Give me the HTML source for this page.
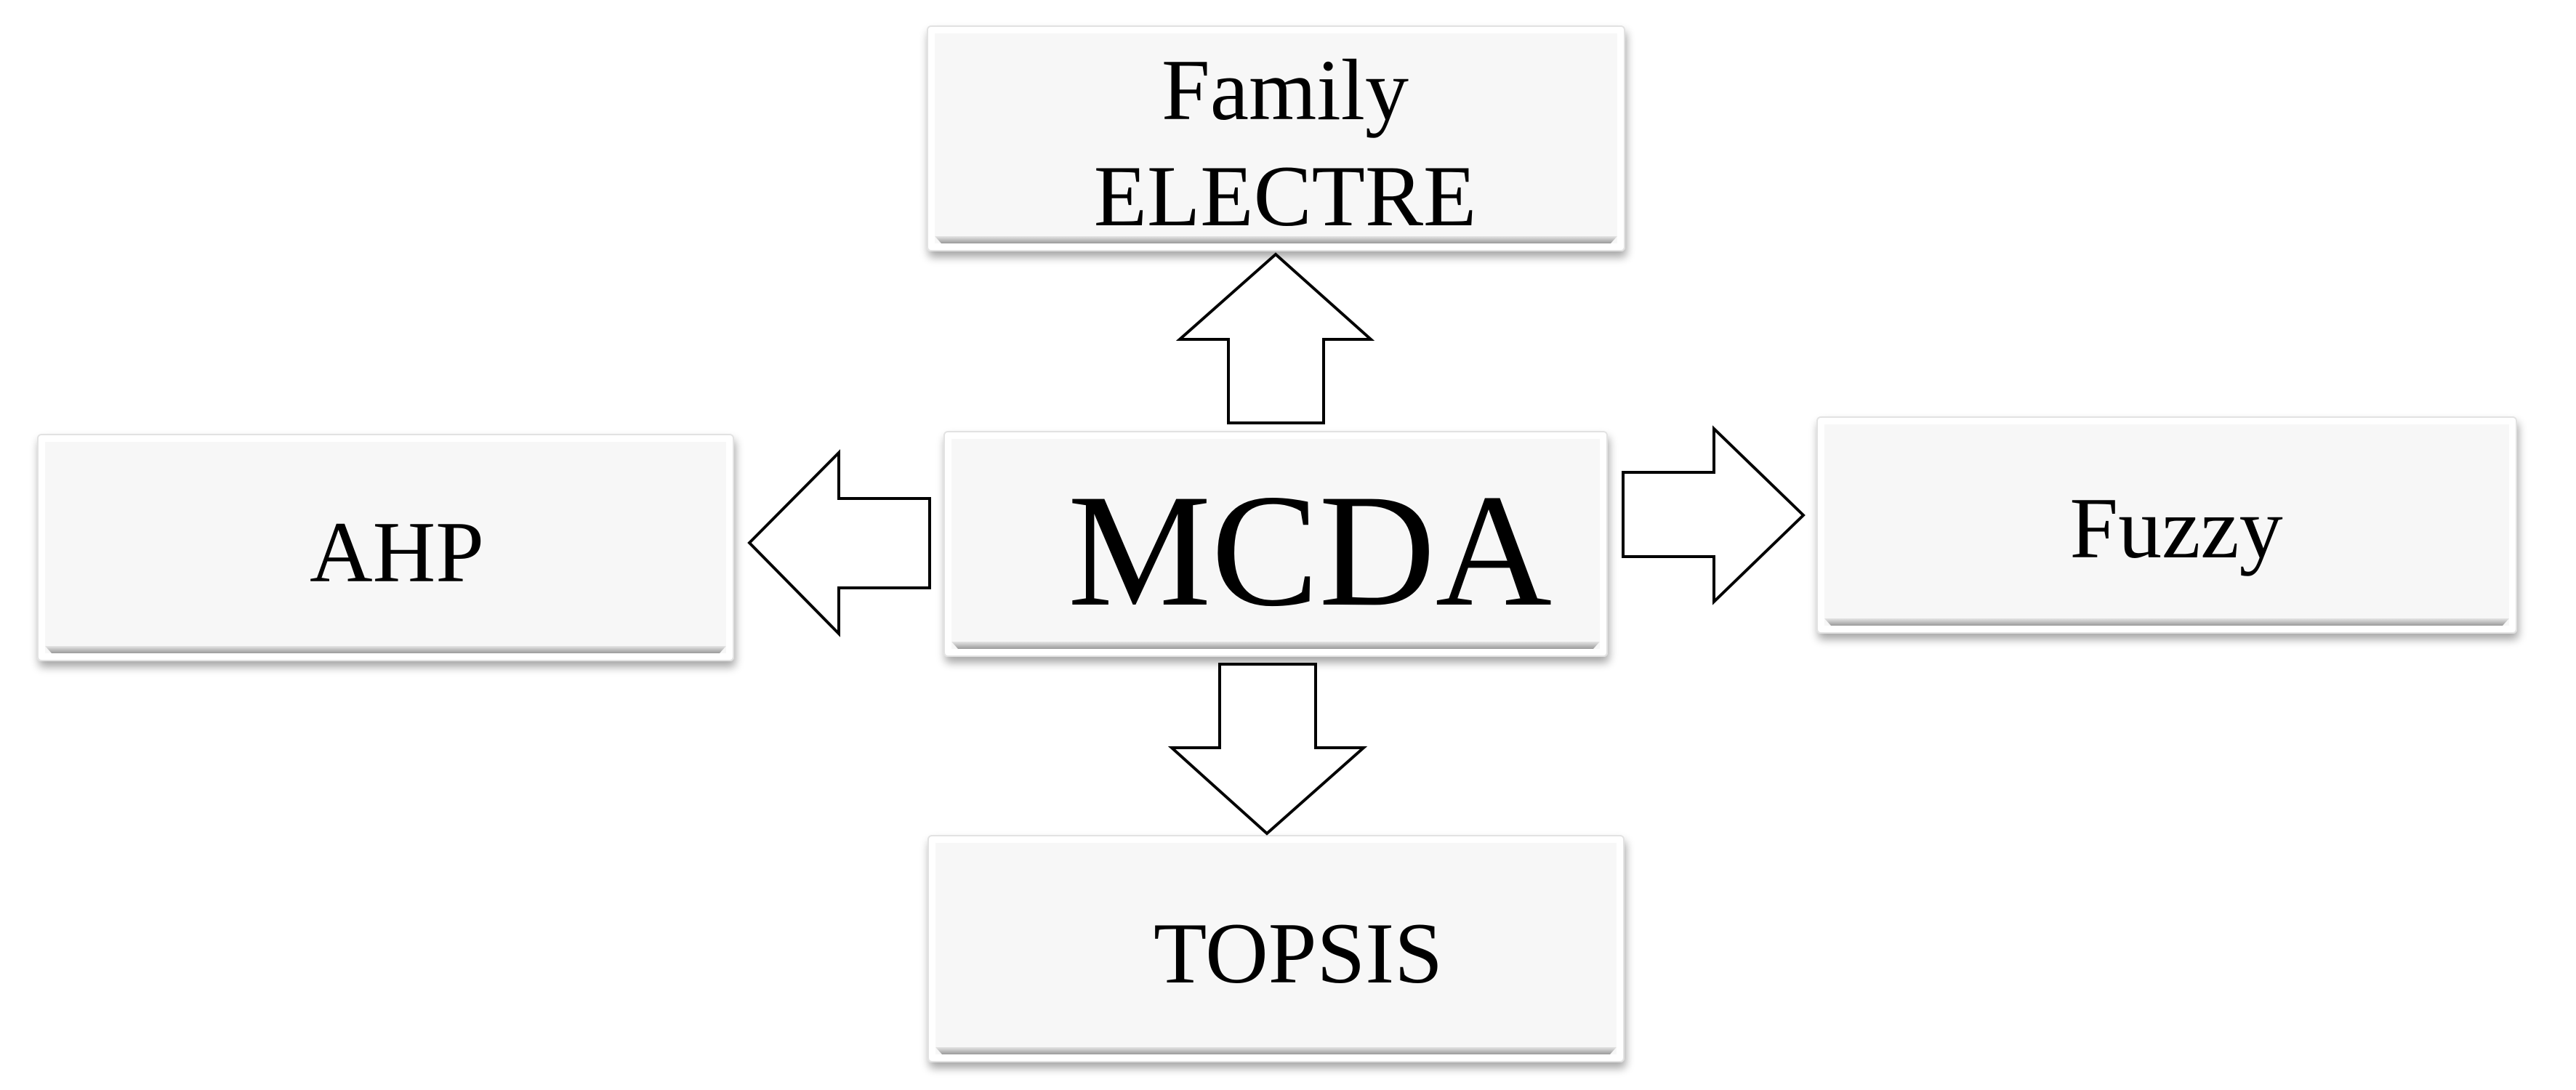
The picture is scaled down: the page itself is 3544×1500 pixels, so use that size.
<!DOCTYPE html>
<html><head><meta charset="utf-8"><style>
html,body{margin:0;padding:0;background:#fff;}
svg{display:block}
text{font-family:"Liberation Serif","Times New Roman",serif;fill:#000}
</style></head><body>
<svg width="3544" height="1500" viewBox="0 0 3544 1500" xmlns="http://www.w3.org/2000/svg">
<defs>
<filter id="sh" x="-5%" y="-10%" width="110%" height="125%">
<feGaussianBlur in="SourceAlpha" stdDeviation="6"/>
<feOffset dx="2" dy="8" result="b"/>
<feComponentTransfer><feFuncA type="linear" slope="0.35"/></feComponentTransfer>
<feMerge><feMergeNode/><feMergeNode in="SourceGraphic"/></feMerge>
</filter>
<linearGradient id="bot" x1="0" y1="0" x2="0" y2="1">
<stop offset="0" stop-color="#e6e6e6"/><stop offset="1" stop-color="#9a9a9a"/>
</linearGradient>
</defs>
<g id="boxes">
<!-- Family ELECTRE -->
<g filter="url(#sh)">
<rect x="1276" y="36" width="959" height="309" rx="5" fill="#fff" stroke="#e2e2e2" stroke-width="2"/>
</g>
<rect x="1286" y="46" width="939" height="289" fill="#f7f7f7"/>
<polygon points="1286,325 2225,325 2216,335 1295,335" fill="url(#bot)"/>
<!-- MCDA -->
<g filter="url(#sh)">
<rect x="1299" y="594" width="912" height="309" rx="5" fill="#fff" stroke="#e2e2e2" stroke-width="2"/>
</g>
<rect x="1309" y="604" width="892" height="289" fill="#f7f7f7"/>
<polygon points="1309,883 2201,883 2192,893 1318,893" fill="url(#bot)"/>
<!-- AHP -->
<g filter="url(#sh)">
<rect x="52" y="598" width="957" height="311" rx="5" fill="#fff" stroke="#e2e2e2" stroke-width="2"/>
</g>
<rect x="62" y="608" width="937" height="291" fill="#f7f7f7"/>
<polygon points="62,889 999,889 990,899 71,899" fill="url(#bot)"/>
<!-- Fuzzy -->
<g filter="url(#sh)">
<rect x="2500" y="574" width="962" height="297" rx="5" fill="#fff" stroke="#e2e2e2" stroke-width="2"/>
</g>
<rect x="2510" y="584" width="942" height="277" fill="#f7f7f7"/>
<polygon points="2510,851 3452,851 3443,861 2519,861" fill="url(#bot)"/>
<!-- TOPSIS -->
<g filter="url(#sh)">
<rect x="1277" y="1150" width="957" height="311" rx="5" fill="#fff" stroke="#e2e2e2" stroke-width="2"/>
</g>
<rect x="1287" y="1160" width="937" height="291" fill="#f7f7f7"/>
<polygon points="1287,1441 2224,1441 2215,1451 1296,1451" fill="url(#bot)"/>
</g>
<g fill="#fff" stroke="#000" stroke-width="4" stroke-linejoin="miter">
<!-- up arrow -->
<polygon points="1755,350 1886,467 1821,467 1821,582 1690,582 1690,467 1623,467"/>
<!-- left arrow -->
<polygon points="1031,747 1154,623 1154,686 1279,686 1279,809 1154,809 1154,872"/>
<!-- right arrow -->
<polygon points="2233,650 2358,650 2358,590 2481,709 2358,828 2358,766 2233,766"/>
<!-- down arrow -->
<polygon points="1678,914 1810,914 1810,1029 1876,1029 1743,1147 1612,1029 1678,1029"/>
</g>
<g text-anchor="middle">
<text x="1768" y="164" font-size="120">Family</text>
<text x="1768" y="310" font-size="120">ELECTRE</text>
<text x="1802" y="832" font-size="222">MCDA</text>
<text x="546" y="800" font-size="120">AHP</text>
<text x="2994" y="767" font-size="120">Fuzzy</text>
<text x="1786" y="1352" font-size="120">TOPSIS</text>
</g>
</svg>
</body></html>
